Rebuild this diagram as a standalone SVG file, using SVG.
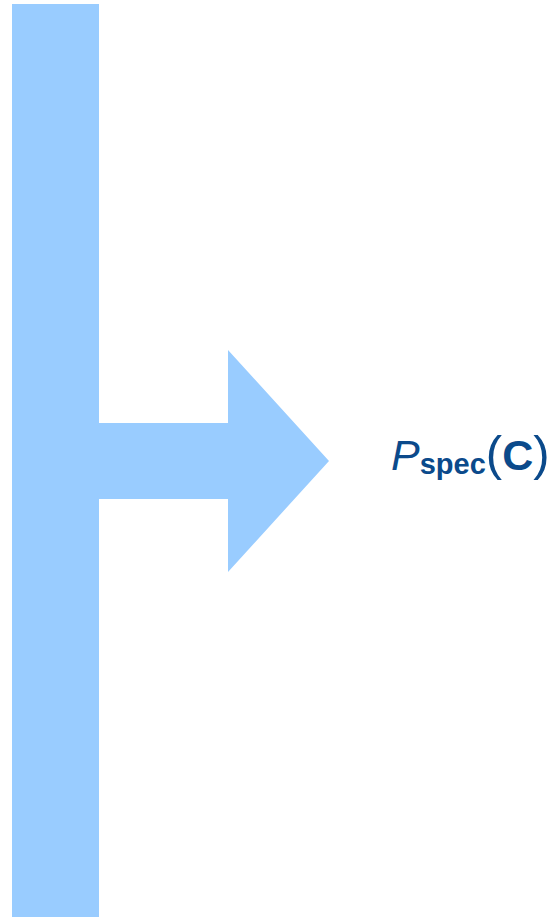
<svg xmlns="http://www.w3.org/2000/svg" width="551" height="917" viewBox="0 0 551 917">
<style>
.shape{fill:#99ccff}
.lbl{font-family:"Liberation Sans",Arial,sans-serif;fill:#0b4a8b}
</style>
<rect width="551" height="917" fill="#ffffff"/>
<g id="connectors">
<path class="shape" d="M12 4 H99 V917 H12 Z"/>
<path class="shape" d="M99 423 H228 V350 L329 461 L228 572 V499 H99 Z"/>
</g>
<g id="label">
<text class="lbl" x="391" y="470" font-size="43"><tspan font-style="italic">P</tspan><tspan font-weight="bold" font-size="29" dy="4">spec</tspan><tspan font-size="49" dy="-4">(</tspan><tspan font-weight="bold">C</tspan><tspan font-size="49">)</tspan></text>
</g>
</svg>
